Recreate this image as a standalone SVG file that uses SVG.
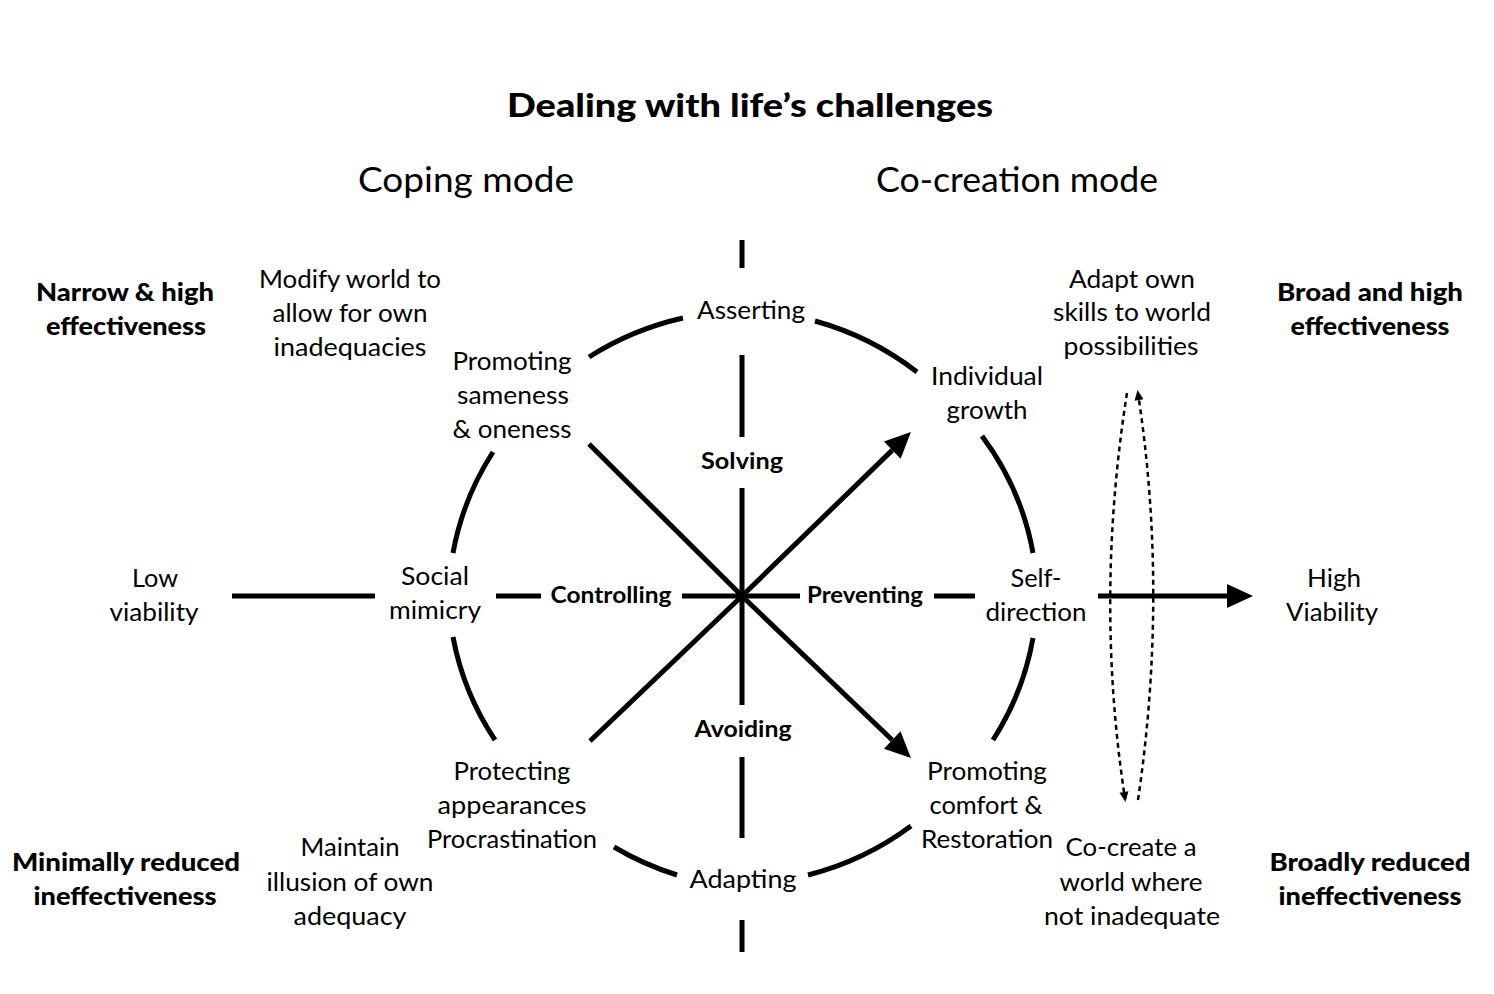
<svg xmlns="http://www.w3.org/2000/svg" width="1494" height="994" viewBox="0 0 1494 994">
<style>
text{font-family:Lato,"Open Sans","Liberation Sans",sans-serif;fill:#000;text-anchor:middle}
.t{font-size:24.5px}
.o{font-size:24.5px}
.b{font-size:22px;font-weight:bold}
.ob{font-size:25px;font-weight:900}
.h{font-size:34px}
.title{font-size:32px;font-weight:900}
.s{fill:none;stroke:#000;stroke-width:5}
.d{fill:none;stroke:#000;stroke-width:2.5;stroke-dasharray:5 4}
</style>
<defs>
<marker id="big" markerUnits="userSpaceOnUse" markerWidth="30" markerHeight="30" refX="0" refY="12" orient="auto" overflow="visible">
<path d="M0,0 L26,12 L0,24 Z" fill="#000"/>
</marker>
<marker id="small" markerUnits="userSpaceOnUse" markerWidth="12" markerHeight="12" refX="0" refY="4.5" orient="auto" overflow="visible">
<path d="M0,0 L10,4.5 L0,9 Z" fill="#000"/>
</marker>
</defs>
<rect width="1494" height="994" fill="#fff"/>

<g id="connectors">
<path class="s" d="M589,357 A291,282 0 0,1 683,318"/>
<path class="s" d="M815,321 A291,282 0 0,1 917,372"/>
<path class="s" d="M982,436 A291,282 0 0,1 1033,553"/>
<path class="s" d="M1033,638 A291,282 0 0,1 993,740"/>
<path class="s" d="M911,826 A291,282 0 0,1 808,875"/>
<path class="s" d="M677,875 A291,282 0 0,1 614,847"/>
<path class="s" d="M495,740 A291,282 0 0,1 453,637"/>
<path class="s" d="M453,553 A291,282 0 0,1 493,452"/>
<path class="s" d="M742,240 V268 M742,355 V437 M742,488 V705 M742,757 V838 M742,920 V952"/>
<path class="s" d="M232,596 H375 M496,596 H541 M682,596 H800 M934,596 H975"/>
<path class="s" d="M1098,596 H1227" marker-end="url(#big)"/>
<path class="s" d="M589,444 L742,596 L590,741"/>
<path class="s" d="M742,596 L892.3,450.1" marker-end="url(#big)"/>
<path class="s" d="M742,596 L892.2,740" marker-end="url(#big)"/>
<path class="d" d="M1127,393 Q1095,596 1124,792" marker-end="url(#small)"/>
<path class="d" d="M1138,800 Q1168,596 1139,400" marker-end="url(#small)"/>
</g>

<g id="title"><text class="title" x="750" y="117" textLength="486" lengthAdjust="spacingAndGlyphs">Dealing with life’s challenges</text></g>
<g id="coping-mode"><text class="h" x="466" y="192" textLength="216" lengthAdjust="spacingAndGlyphs">Coping mode</text></g>
<g id="cocreation-mode"><text class="h" x="1017" y="192" textLength="282" lengthAdjust="spacingAndGlyphs">Co-creation mode</text></g>

<g id="narrow"><text class="ob" x="125" y="301" textLength="178" lengthAdjust="spacingAndGlyphs">Narrow &amp; high</text><text class="ob" x="126" y="335" textLength="160" lengthAdjust="spacingAndGlyphs">effectiveness</text></g>
<g id="broad"><text class="ob" x="1370" y="301" textLength="186" lengthAdjust="spacingAndGlyphs">Broad and high</text><text class="ob" x="1370" y="335" textLength="159" lengthAdjust="spacingAndGlyphs">effectiveness</text></g>
<g id="minimally"><text class="ob" x="126" y="871" textLength="228" lengthAdjust="spacingAndGlyphs">Minimally reduced</text><text class="ob" x="125" y="905" textLength="183" lengthAdjust="spacingAndGlyphs">ineffectiveness</text></g>
<g id="broadly"><text class="ob" x="1370" y="871" textLength="201" lengthAdjust="spacingAndGlyphs">Broadly reduced</text><text class="ob" x="1370" y="905" textLength="183" lengthAdjust="spacingAndGlyphs">ineffectiveness</text></g>

<g id="modify"><text class="o" x="350" y="288" textLength="182" lengthAdjust="spacingAndGlyphs">Modify world to</text><text class="o" x="350" y="322" textLength="155" lengthAdjust="spacingAndGlyphs">allow for own</text><text class="o" x="350" y="356" textLength="153" lengthAdjust="spacingAndGlyphs">inadequacies</text></g>
<g id="adapt-own"><text class="o" x="1132" y="288" textLength="126" lengthAdjust="spacingAndGlyphs">Adapt own</text><text class="o" x="1132" y="321" textLength="158" lengthAdjust="spacingAndGlyphs">skills to world</text><text class="o" x="1131" y="355" textLength="135" lengthAdjust="spacingAndGlyphs">possibilities</text></g>
<g id="maintain"><text class="o" x="350" y="856" textLength="99" lengthAdjust="spacingAndGlyphs">Maintain</text><text class="o" x="350" y="891" textLength="167" lengthAdjust="spacingAndGlyphs">illusion of own</text><text class="o" x="350" y="925" textLength="113" lengthAdjust="spacingAndGlyphs">adequacy</text></g>
<g id="cocreate"><text class="o" x="1131" y="856" textLength="131" lengthAdjust="spacingAndGlyphs">Co-create a</text><text class="o" x="1131" y="891" textLength="143" lengthAdjust="spacingAndGlyphs">world where</text><text class="o" x="1132" y="925" textLength="176" lengthAdjust="spacingAndGlyphs">not inadequate</text></g>
<g id="low"><text class="o" x="155" y="587" textLength="46" lengthAdjust="spacingAndGlyphs">Low</text><text class="o" x="154" y="621" textLength="89" lengthAdjust="spacingAndGlyphs">viability</text></g>
<g id="high"><text class="o" x="1334" y="587" textLength="54" lengthAdjust="spacingAndGlyphs">High</text><text class="o" x="1332" y="621" textLength="92" lengthAdjust="spacingAndGlyphs">Viability</text></g>

<g id="asserting"><text class="t" x="751" y="319" textLength="108" lengthAdjust="spacingAndGlyphs">Asserting</text></g>
<g id="adapting"><text class="t" x="743" y="888" textLength="107" lengthAdjust="spacingAndGlyphs">Adapting</text></g>
<g id="sameness"><text class="t" x="512" y="370" textLength="119" lengthAdjust="spacingAndGlyphs">Promoting</text><text class="t" x="513" y="404" textLength="112" lengthAdjust="spacingAndGlyphs">sameness</text><text class="t" x="512" y="438" textLength="119" lengthAdjust="spacingAndGlyphs">&amp; oneness</text></g>
<g id="growth"><text class="t" x="987" y="385" textLength="112" lengthAdjust="spacingAndGlyphs">Individual</text><text class="t" x="987" y="419" textLength="81" lengthAdjust="spacingAndGlyphs">growth</text></g>
<g id="mimicry"><text class="t" x="435" y="585" textLength="68" lengthAdjust="spacingAndGlyphs">Social</text><text class="t" x="435" y="619" textLength="92" lengthAdjust="spacingAndGlyphs">mimicry</text></g>
<g id="self-direction"><text class="t" x="1036" y="587" textLength="51" lengthAdjust="spacingAndGlyphs">Self-</text><text class="t" x="1036" y="621" textLength="101" lengthAdjust="spacingAndGlyphs">direction</text></g>
<g id="protecting"><text class="t" x="512" y="780" textLength="117" lengthAdjust="spacingAndGlyphs">Protecting</text><text class="t" x="512" y="814" textLength="149" lengthAdjust="spacingAndGlyphs">appearances</text><text class="t" x="512" y="848" textLength="170" lengthAdjust="spacingAndGlyphs">Procrastination</text></g>
<g id="comfort"><text class="t" x="987" y="780" textLength="120" lengthAdjust="spacingAndGlyphs">Promoting</text><text class="t" x="986" y="814" textLength="113" lengthAdjust="spacingAndGlyphs">comfort &amp;</text><text class="t" x="987" y="848" textLength="132" lengthAdjust="spacingAndGlyphs">Restoration</text></g>

<g id="solving"><text class="b" x="742" y="469" textLength="82" lengthAdjust="spacingAndGlyphs">Solving</text></g>
<g id="controlling"><text class="b" x="611" y="603" textLength="121" lengthAdjust="spacingAndGlyphs">Controlling</text></g>
<g id="preventing"><text class="b" x="865" y="603" textLength="116" lengthAdjust="spacingAndGlyphs">Preventing</text></g>
<g id="avoiding"><text class="b" x="743" y="737" textLength="97" lengthAdjust="spacingAndGlyphs">Avoiding</text></g>
</svg>
